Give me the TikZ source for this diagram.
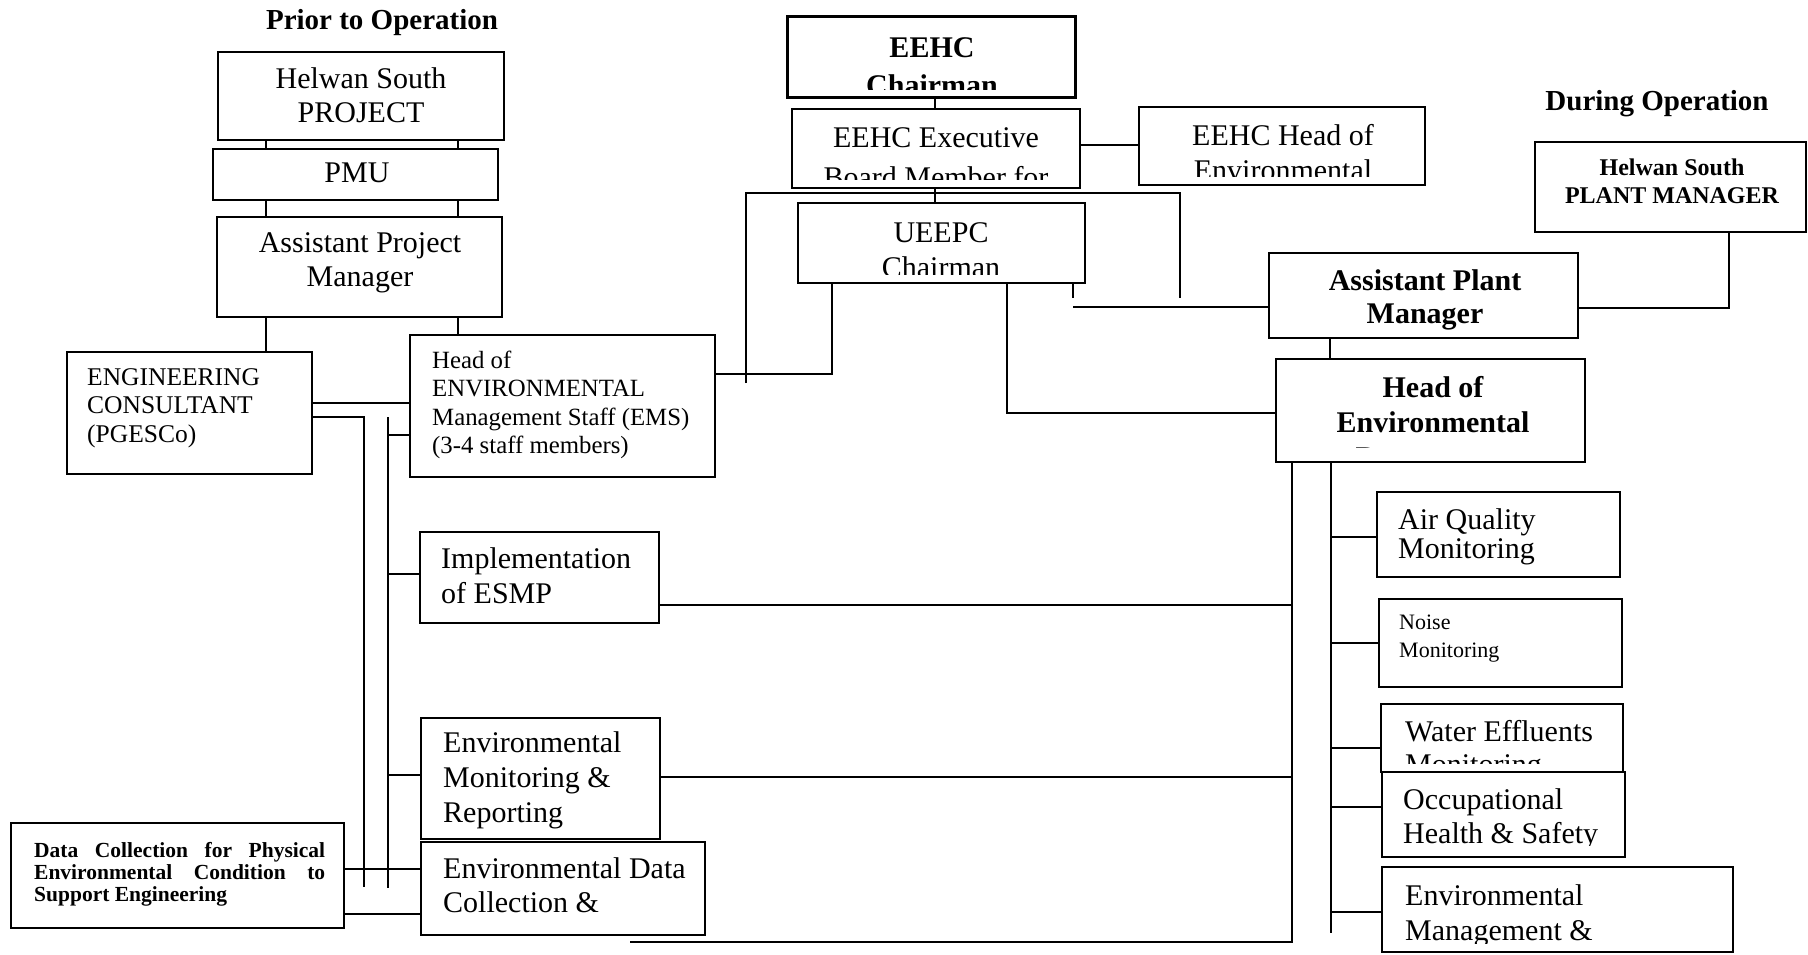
\documentclass[tikz,border=0pt]{standalone}
\usepackage{fontspec}
\setmainfont{Liberation Serif}
\usepackage{tikz}
\usetikzlibrary{positioning,calc}

\newcommand{\fsz}[2]{\fontsize{#1}{#2}\selectfont}
% text of a box, clipped to the inside of the box
\newcommand{\boxlabel}[5][9pt]{%
  \begin{scope}
    \clip ([xshift=2pt,yshift=#1]#2.south west) rectangle ([xshift=-2pt,yshift=-2pt]#2.north east);
    \node[#3] (#2-txt) at (#4) {#5};
  \end{scope}}

\tikzset{
  orgbox/.style={draw, line width=1.8pt, fill=white, inner sep=0pt},
  link/.style={line width=1.5pt},
  lbl/.style={inner sep=0pt, anchor=north west, align=left},
  clbl/.style={inner sep=0pt, anchor=north, align=center},
  head/.style={inner sep=0pt, anchor=base, font=\bfseries\fsz{29}{33}}
}

\begin{document}
\begin{tikzpicture}[x=1pt,y=-1pt]
\useasboundingbox (0,0) rectangle (1808,954);
% Headings
\node[head] (prior) at (382,29) {Prior to Operation};
\node[head] (during) at (1657,110) {During Operation};
% Prior to operation column
\node[orgbox, minimum width=286pt, minimum height=88pt] (hsp) at (361,96) {};
\boxlabel{hsp}{clbl, font=\fsz{30}{34}}{361,67.5}{Helwan South\\PROJECT}
\node[orgbox, minimum width=285pt, minimum height=51pt] (pmu) at (355.5,174.5) {};
\boxlabel{pmu}{clbl, font=\fsz{30}{34}}{357,163}{PMU}
\node[orgbox, minimum width=285pt, minimum height=100pt] (apm) at (359.5,267) {};
\boxlabel{apm}{clbl, font=\fsz{30}{34}}{360,232.5}{Assistant Project\\Manager}
\node[orgbox, minimum width=245pt, minimum height=122pt] (eng) at (189.5,413) {};
\boxlabel{eng}{lbl, font=\fsz{25.5}{28.5}}{87,368}{ENGINEERING\\CONSULTANT\\(PGESCo)}
\node[orgbox, minimum width=305pt, minimum height=142pt] (ems) at (562.5,406) {};
\boxlabel{ems}{lbl, font=\fsz{24.8}{28.3}}{432,351}{Head of\\ENVIRONMENTAL\\Management Staff (EMS)\\(3-4 staff members)}
\node[orgbox, minimum width=239pt, minimum height=91pt] (impl) at (539.5,577.5) {};
\boxlabel{impl}{lbl, font=\fsz{30}{35}}{441,547.5}{Implementation\\of ESMP}
\node[orgbox, minimum width=239pt, minimum height=121pt] (envmon) at (540.5,778.5) {};
\boxlabel{envmon}{lbl, font=\fsz{30}{35}}{443,731.5}{Environmental\\Monitoring \&\\Reporting}
\node[orgbox, minimum width=284pt, minimum height=93pt] (envdata) at (563,888.5) {};
\boxlabel{envdata}{lbl, font=\fsz{30}{34}}{443,857.5}{Environmental Data\\Collection \&}
\node[orgbox, minimum width=333pt, minimum height=105pt] (dcol) at (177.5,875.5) {};
\boxlabel{dcol}{lbl, align=justify, text width=291pt, font=\bfseries\fsz{21.5}{22}}{34,842}{Data Collection for Physical\linebreak Environmental Condition to\linebreak Support Engineering}
% EEHC / UEEPC
\node[orgbox, line width=3pt, minimum width=288pt, minimum height=81pt] (chair) at (931,56.5) {};
\boxlabel{chair}{clbl, font=\bfseries\fsz{30}{38}}{932,37}{EEHC\\Chairman}
\node[orgbox, minimum width=288pt, minimum height=79pt] (exec) at (936,148.5) {};
\boxlabel{exec}{clbl, font=\fsz{30}{40}}{936,127}{EEHC Executive\\Board Member for}
\node[orgbox, minimum width=286pt, minimum height=78pt] (eheh) at (1282,146) {};
\boxlabel{eheh}{clbl, font=\fsz{30}{35}}{1283,124.5}{EEHC Head of\\Environmental}
\node[orgbox, minimum width=287pt, minimum height=80pt] (ueepc) at (941.5,243) {};
\boxlabel{ueepc}{clbl, font=\fsz{30}{35}}{941,222}{UEEPC\\Chairman}
% During operation column
\node[orgbox, minimum width=271pt, minimum height=90pt] (plant) at (1670.5,187) {};
\boxlabel{plant}{clbl, font=\bfseries\fsz{24}{28}}{1672,159}{Helwan South\\PLANT MANAGER}
\node[orgbox, minimum width=309pt, minimum height=85pt] (apmp) at (1423.5,295.5) {};
\boxlabel{apmp}{clbl, font=\bfseries\fsz{30}{33}}{1425,269.5}{Assistant Plant\\Manager}
\node[orgbox, minimum width=309pt, minimum height=103pt] (henv) at (1430.5,410.5) {};
\boxlabel[15pt]{henv}{clbl, font=\bfseries\fsz{30}{35}}{1433,376.5}{Head of\\Environmental\\Department}
\node[orgbox, minimum width=243pt, minimum height=85pt] (air) at (1498.5,534.5) {};
\boxlabel{air}{lbl, font=\fsz{30}{29}}{1398,508}{Air Quality\\Monitoring}
\node[orgbox, minimum width=243pt, minimum height=88pt] (noise) at (1500.5,643) {};
\boxlabel{noise}{lbl, font=\fsz{22}{28}}{1399,615}{Noise\\Monitoring}
\node[orgbox, minimum width=242pt, minimum height=68pt] (water) at (1502,738) {};
\boxlabel{water}{lbl, font=\fsz{30}{33}}{1405,720}{Water Effluents\\Monitoring}
\node[orgbox, minimum width=243pt, minimum height=85pt] (occ) at (1503.5,814.5) {};
\boxlabel[12pt]{occ}{lbl, font=\fsz{30}{34}}{1403,788}{Occupational\\Health \& Safety}
\node[orgbox, minimum width=351pt, minimum height=85pt] (envmgmt) at (1557.5,909.5) {};
\boxlabel{envmgmt}{lbl, font=\fsz{30}{35}}{1405,884.5}{Environmental\\Management \&}

% Connectors, left side
\foreach \x in {266,458} {
  \draw[link] (\x,0 |- hsp.south) -- (\x,0 |- pmu.north);
  \draw[link] (\x,0 |- pmu.south) -- (\x,0 |- apm.north);
}
\draw[link] (266,0 |- apm.south) -- (266,0 |- eng.north);
\draw[link] (458,0 |- apm.south) -- (458,0 |- ems.north);
\draw[link] (eng.east |- 0,403) -- (ems.west |- 0,403);
\draw[link] (eng.east |- 0,417) -- (364,417) -- (364,887);
\draw[link] (388,417) -- (388,888);
\foreach \n/\y in {ems/435,impl/574,envmon/775}
  \draw[link] (388,\y) -- (\n.west |- 0,\y);
\draw[link, line width=2.5pt] (dcol.east |- 0,869) -- (envdata.west |- 0,869);
\draw[link] (dcol.east |- 0,914) -- (envdata.west |- 0,914);
% Connectors, EEHC / UEEPC
\draw[link] (935,0 |- chair.south) -- (935,0 |- exec.north);
\draw[link] (exec.east |- 0,145) -- (eheh.west |- 0,145);
\draw[link] (935,0 |- exec.south) -- (935,0 |- ueepc.north);
\draw[link] (746,383) -- (746,193) -- (1180,193) -- (1180,298);
\draw[link] (ems.east |- 0,374) -- (832,374) -- (832,0 |- ueepc.south);
\draw[link] (1007,0 |- ueepc.south) -- (1007,413) -- (henv.west |- 0,413);
\draw[link] (1073,0 |- ueepc.south) -- (1073,298);
\draw[link] (1073,307) -- (apmp.west |- 0,307);
% Connectors, right side
\draw[link] (1729,0 |- plant.south) -- (1729,308) -- (apmp.east |- 0,308);
\draw[link] (1330,0 |- apmp.south) -- (1330,0 |- henv.north);
\draw[link] (1331,0 |- henv.south) -- (1331,933);
\foreach \n/\y in {air/537,noise/643,water/748,occ/807,envmgmt/912}
  \draw[link] (1331,\y) -- (\n.west |- 0,\y);
\draw[link] (1292,0 |- henv.south) -- (1292,942) -- (630,942);
\draw[link] (impl.east |- 0,605) -- (1292,605);
\draw[link] (envmon.east |- 0,777) -- (1292,777);
\end{tikzpicture}
\end{document}
